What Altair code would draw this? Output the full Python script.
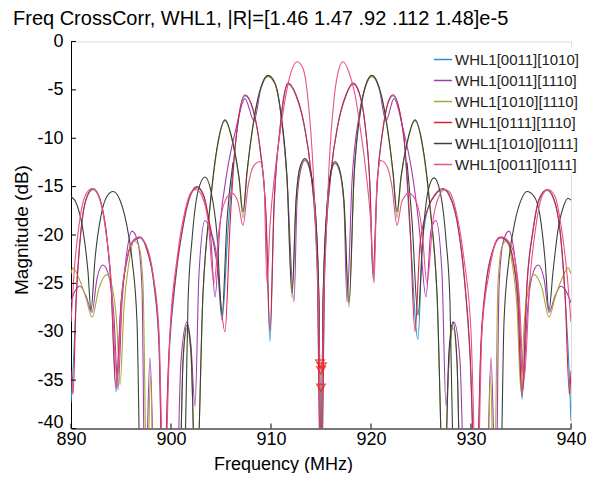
import altair as alt
import pandas as pd

FONT = "Liberation Sans"

title_text = "Freq CrossCorr, WHL1, |R|=[1.46 1.47 .92 .112 1.48]e-5"

series_names = ["WHL1[0011][1010]", "WHL1[0011][1110]", "WHL1[1010][1110]",
                "WHL1[0111][1110]", "WHL1[1010][0111]", "WHL1[0011][0111]"]
series_colors = ["#2b8fd8", "#a23cb0", "#a9a63a", "#d8203a", "#3a403c", "#e8508a"]

x_ticks = [890, 900, 910, 920, 930, 940]
y_ticks = [0, -5, -10, -15, -20, -25, -30, -35, -40]

# (frequency MHz, magnitude dB)
red_pts = [(890.0,-34.0),(890.2,-36.5),(890.5,-27.0),(891.0,-19.5),(891.5,-16.3),(892.2,-15.2),(892.9,-16.3),(893.5,-19.5),(894.0,-25.0),(894.5,-35.8),(895.0,-27.0),(895.6,-22.5),(896.2,-20.6),(896.9,-20.2),(897.6,-21.5),(898.3,-25.0),(898.8,-31.0),(899.2,-48),(899.8,-32.0),(900.5,-24.0),(901.3,-18.5),(902.0,-15.7),(902.6,-15.0),(903.3,-16.0),(903.9,-19.0),(904.6,-23.0),(905.4,-30.0),(905.9,-19.0),(906.5,-10.0),(907.4,-5.5),(908.2,-7.0),(908.9,-11.0),(909.5,-18.0),(909.9,-30.0),(910.3,-17.0),(910.9,-9.0),(911.3,-5.6),(911.7,-4.3),(912.5,-5.5),(913.3,-8.5),(914.0,-13.5),(914.6,-22.0),(915.0,-48),(915.4,-22.0),(916.0,-13.5),(916.7,-8.5),(917.5,-5.5),(918.2,-4.3),(918.8,-5.2),(919.4,-8.5),(919.9,-15.0),(920.2,-24.0),(920.6,-15.0),(921.2,-9.0),(921.7,-6.3),(922.2,-5.5),(923.3,-10.0),(923.9,-19.0),(924.4,-30.0),(924.9,-21.0),(925.6,-17.5),(926.4,-15.8),(927.2,-15.2),(927.9,-16.0),(928.6,-18.5),(929.3,-24.0),(929.9,-32.0),(930.5,-48),(931.0,-31.0),(931.5,-25.0),(932.2,-21.5),(932.9,-20.2),(933.6,-20.6),(934.2,-22.5),(934.7,-27.0),(935.1,-36.7),(935.6,-25.0),(936.2,-19.5),(936.8,-16.3),(937.6,-15.3),(938.3,-16.3),(938.9,-19.5),(939.4,-26.0),(939.85,-36.5),(940.0,-34.0)]

blue_pts = [(890.0,-37.3),(890.25,-33.0),(890.5,-27.0),(891.0,-19.6),(891.5,-16.4),(892.2,-15.3),(892.9,-16.4),(893.5,-19.6),(894.0,-25.2),(894.5,-36.2),(895.0,-27.2),(895.6,-22.6),(896.2,-20.7),(896.9,-20.3),(897.6,-21.6),(898.3,-25.2),(898.8,-31.5),(899.2,-48),(899.8,-32.5),(900.5,-24.2),(901.3,-18.6),(902.0,-15.8),(902.6,-15.1),(903.3,-16.1),(903.9,-19.2),(904.6,-22.5),(905.1,-28.8),(905.7,-19.5),(906.5,-10.1),(907.4,-5.6),(908.2,-7.1),(908.9,-11.1),(909.5,-18.2),(909.9,-31.0),(910.3,-17.2),(910.9,-9.1),(911.3,-5.7),(911.7,-4.4),(912.5,-5.6),(913.3,-8.6),(914.0,-13.6),(914.6,-22.5),(915.0,-48),(915.4,-22.5),(916.0,-13.6),(916.7,-8.6),(917.5,-5.6),(918.2,-4.4),(918.8,-5.3),(919.4,-8.6),(919.9,-15.2),(920.2,-24.5),(920.6,-15.2),(921.2,-9.1),(921.7,-6.4),(922.2,-5.6),(923.3,-10.1),(923.9,-19.5),(924.7,-30.8),(925.1,-21.5),(925.6,-17.6),(926.4,-15.9),(927.2,-15.3),(927.9,-16.1),(928.6,-18.6),(929.3,-24.2),(929.9,-32.5),(930.5,-48),(931.0,-31.5),(931.5,-25.2),(932.2,-21.6),(932.9,-20.3),(933.6,-20.7),(934.2,-22.6),(934.7,-27.2),(935.1,-37.0),(935.6,-25.2),(936.2,-19.6),(936.8,-16.4),(937.6,-15.4),(938.3,-16.4),(938.9,-19.6),(939.4,-26.2),(939.85,-35.0),(940.0,-39.2)]

purple_pts = [(890.0,-27.0),(890.4,-25.8),(890.9,-25.3),(891.5,-26.3),(892.1,-28.0),(892.6,-24.5),(893.2,-23.1),(893.8,-24.3),(894.3,-28.5),(894.7,-36.0),(895.1,-27.0),(895.5,-22.5),(896.1,-19.6),(896.7,-20.8),(897.1,-25.5),(897.4,-48),(897.9,-32.7),(898.4,-48),(900.5,-48),(901.0,-33.0),(901.6,-29.0),(902.0,-31.5),(902.4,-37.7),(902.8,-24.0),(903.4,-18.5),(903.9,-19.5),(904.4,-26.4),(904.9,-19.0),(905.6,-13.5),(906.5,-9.0),(907.4,-5.9),(908.3,-8.2),(909.0,-4.8),(909.7,-3.6),(910.4,-4.4),(911.0,-7.6),(911.6,-14.2),(912.3,-26.9),(912.6,-16.6),(913.0,-13.1),(913.4,-12.3),(913.9,-13.4),(914.4,-17.2),(914.8,-27.5),(915.0,-48),(915.2,-27.5),(915.6,-17.2),(916.0,-13.6),(916.4,-12.6),(916.9,-13.6),(917.3,-17.0),(917.6,-26.9),(918.1,-14.5),(918.8,-7.7),(919.5,-4.5),(920.1,-3.6),(920.8,-4.8),(921.5,-8.2),(922.3,-5.9),(923.2,-9.0),(924.1,-13.5),(924.8,-19.0),(925.5,-26.4),(926.0,-19.5),(926.5,-18.5),(927.1,-24.0),(927.5,-37.7),(927.9,-31.5),(928.3,-29.0),(928.9,-33.0),(929.4,-48),(931.5,-48),(932.0,-32.7),(932.5,-48),(932.8,-25.5),(933.2,-20.8),(933.8,-19.6),(934.4,-22.5),(934.8,-27.0),(935.2,-36.0),(935.6,-28.5),(936.1,-24.3),(936.7,-23.1),(937.3,-24.5),(937.8,-28.0),(938.4,-26.3),(939.0,-25.3),(939.5,-25.8),(940.0,-27.0)]

olive_pts = [(890.0,-24.0),(890.2,-23.4),(890.8,-24.5),(891.5,-26.5),(892.1,-28.5),(892.8,-25.5),(893.6,-24.1),(894.2,-25.8),(894.6,-29.5),(894.9,-35.5),(895.3,-27.5),(895.8,-22.8),(896.3,-20.6),(896.8,-21.2),(897.2,-25.0),(897.6,-48),(897.95,-34.5),(898.3,-48),(900.8,-48),(901.2,-33.3),(901.6,-29.6),(902.0,-32.5),(902.5,-48),(903.2,-26.2),(903.9,-17.2),(904.6,-11.2),(905.4,-8.2),(906.2,-10.6),(906.8,-14.2),(907.2,-18.2),(907.6,-13.6),(908.3,-8.1),(909.0,-4.8),(909.7,-3.6),(910.4,-4.4),(911.0,-7.6),(911.6,-14.2),(912.1,-26.5),(912.5,-16.6),(912.9,-13.1),(913.4,-12.2),(913.9,-13.3),(914.4,-17.2),(914.8,-27.5),(915.0,-48),(915.2,-27.5),(915.6,-17.2),(916.0,-13.5),(916.4,-12.5),(916.9,-13.5),(917.3,-16.6),(917.8,-27.5),(918.3,-14.1),(918.9,-7.6),(919.5,-4.5),(920.1,-3.6),(920.8,-4.8),(921.5,-8.1),(922.2,-13.6),(922.6,-18.2),(923.0,-14.1),(923.6,-10.6),(924.4,-8.2),(925.2,-11.2),(925.9,-17.2),(926.6,-26.2),(927.3,-48),(927.8,-32.5),(928.2,-29.6),(928.6,-33.3),(929.0,-48),(931.6,-48),(931.95,-34.5),(932.3,-48),(932.7,-25.0),(933.1,-21.2),(933.6,-20.6),(934.1,-22.8),(934.6,-27.5),(935.0,-36.2),(935.3,-29.5),(935.7,-25.8),(936.3,-24.1),(937.1,-25.5),(937.8,-28.5),(938.4,-26.5),(939.1,-24.5),(939.7,-23.4),(940.0,-24.0)]

black_main_pts = [(890.0,-16.0),(890.6,-16.9),(891.2,-19.5),(891.7,-23.8),(892.0,-27.8),(892.4,-22.5),(893.0,-18.0),(893.6,-16.0),(894.2,-15.5),(894.9,-16.4),(895.5,-18.6),(896.1,-22.5),(896.6,-29.0),(897.0,-48),(898.9,-41.5),(900.8,-48),(901.2,-33.0),(901.6,-29.3),(902.0,-32.0),(902.5,-48),(903.2,-26.0),(903.9,-17.0),(904.6,-11.0),(905.4,-8.1),(906.2,-10.5),(906.8,-14.0),(907.2,-17.6),(907.6,-13.5),(908.3,-8.0),(909.0,-4.7),(909.7,-3.5),(910.4,-4.3),(911.0,-7.5),(911.6,-14.0),(912.1,-26.0),(912.5,-16.5),(912.9,-13.0),(913.4,-12.1),(913.9,-13.2),(914.4,-17.0),(914.8,-27.0),(915.0,-48),(915.2,-27.0),(915.6,-17.0),(916.0,-13.4),(916.4,-12.4),(916.9,-13.4),(917.3,-16.5),(917.8,-27.0),(918.3,-14.0),(918.9,-7.5),(919.5,-4.4),(920.1,-3.5),(920.8,-4.7),(921.5,-8.0),(922.2,-13.5),(922.6,-17.6),(923.0,-14.0),(923.6,-10.5),(924.4,-8.1),(925.2,-11.0),(925.9,-17.0),(926.6,-26.0),(927.3,-48),(927.8,-32.0),(928.2,-29.0),(928.6,-33.0),(929.0,-48),(931.0,-41.5),(932.9,-48),(933.3,-29.0),(933.8,-22.5),(934.4,-18.6),(935.0,-16.4),(935.6,-15.5),(936.3,-16.0),(936.9,-18.0),(937.4,-22.5),(937.8,-27.8),(938.2,-23.8),(938.7,-19.5),(939.3,-16.9),(939.7,-16.2),(940.0,-16.4)]
black_left_pts = [(901.3,-48),(901.7,-27.0),(902.1,-20.5),(902.7,-15.5),(903.4,-14.0),(904.0,-15.5),(904.6,-20.0),(905.1,-28.3),(905.6,-18.5),(906.2,-12.5)]
black_right_pts = [(923.6,-12.5),(924.1,-18.5),(924.7,-28.3),(925.2,-20.0),(925.7,-15.5),(926.3,-14.1),(926.9,-15.5),(927.5,-20.5),(927.9,-27.0),(928.3,-48)]

pink_pts = [(890.0,-29.0),(890.3,-24.0),(890.8,-19.0),(891.4,-16.0),(892.1,-15.2),(892.8,-16.0),(893.4,-19.0),(894.0,-24.5),(894.6,-35.0),(895.1,-26.0),(895.7,-22.0),(896.2,-20.6),(896.8,-20.2),(897.5,-21.0),(898.2,-24.0),(898.8,-30.0),(899.3,-48),(899.9,-30.0),(900.6,-22.5),(901.4,-17.5),(902.0,-15.6),(902.5,-15.3),(903.1,-16.0),(903.7,-18.5),(904.3,-25.0),(904.8,-19.5),(905.4,-16.5),(906.1,-15.7),(906.7,-16.6),(907.2,-19.0),(907.7,-15.0),(908.3,-12.8),(908.9,-12.4),(909.3,-14.5),(909.6,-25.0),(909.9,-19.0),(910.4,-13.5),(910.9,-9.5),(911.5,-5.5),(912.0,-3.2),(912.6,-2.1),(913.2,-2.8),(913.7,-6.0),(914.2,-13.0),(914.5,-20.5),(914.8,-30.0),(915.0,-48),(915.2,-30.0),(915.5,-20.5),(915.8,-13.0),(916.3,-6.0),(916.8,-2.8),(917.2,-2.1),(917.8,-3.2),(918.4,-5.5),(919.0,-9.5),(919.5,-13.5),(920.0,-19.0),(920.3,-25.0),(920.6,-14.5),(921.0,-12.3),(921.6,-12.9),(922.1,-15.0),(922.6,-19.0),(923.1,-16.5),(923.8,-15.7),(924.5,-16.5),(925.1,-19.5),(925.6,-25.0),(926.2,-18.5),(926.8,-16.0),(927.4,-15.3),(927.9,-15.6),(928.5,-17.5),(929.3,-22.5),(930.0,-30.0),(930.6,-48),(931.1,-30.0),(931.8,-24.0),(932.4,-21.0),(933.1,-20.2),(933.7,-20.6),(934.3,-22.0),(934.8,-26.0),(935.3,-35.0),(935.9,-24.5),(936.5,-19.0),(937.1,-16.0),(937.7,-15.3),(938.4,-16.0),(939.0,-19.0),(939.6,-24.0),(940.0,-29.0)]

marker_f = [914.9, 915.1, 915.0, 915.0]
marker_db = [-33.3, -33.6, -34.0, -35.8]

series_segments = {
    "WHL1[0011][1010]": [blue_pts],
    "WHL1[0011][1110]": [purple_pts],
    "WHL1[1010][1110]": [olive_pts],
    "WHL1[0111][1110]": [red_pts],
    "WHL1[1010][0111]": [black_main_pts, black_left_pts, black_right_pts],
    "WHL1[0011][0111]": [pink_pts],
}

rows = []
for name, segs in series_segments.items():
    for j, seg in enumerate(segs):
        for k, (f, db) in enumerate(seg):
            rows.append({"series": name, "seg": f"{name}-{j}", "f": f, "db": db, "k": k})
df = pd.DataFrame(rows)

W, H = 500, 387
xscale = alt.Scale(domain=[890, 940], nice=False, zero=False)
yscale = alt.Scale(domain=[-40, 0], nice=False, zero=False)

xaxis = alt.Axis(values=x_ticks, title="Frequency (MHz)", format="d",
                 titleFontSize=18, titleFontWeight="normal", titleFont=FONT, titleColor="black",
                 titleX=212, titleY=41, titleBaseline="alphabetic",
                 labelFontSize=18, labelFont=FONT, labelColor="black", labelPadding=2,
                 ticks=False, tickSize=0, grid=False, domainColor="black", domainWidth=1,
                 labelFlush=False)
yaxis = alt.Axis(values=y_ticks, title="Magnitude (dB)", labelExpr="'' + datum.value",
                 labelOffset={"condition": {"test": "datum.value == -40", "value": -6}, "value": 0},
                 titleFontSize=19, titleFontWeight="normal", titleFont=FONT, titleColor="black",
                 titleX=-44, titleY=188, titleBaseline="alphabetic", titleAlign="center",
                 labelFontSize=18, labelFont=FONT, labelColor="black", labelPadding=8,
                 ticks=False, tickSize=0, grid=False, domainColor="black", domainWidth=1,
                 labelFlush=False)

X = alt.X("f:Q", scale=xscale, axis=xaxis)
Y = alt.Y("db:Q", scale=yscale, axis=yaxis)

legend = alt.Legend(title=None, orient="none", legendX=360, legendY=6,
                    symbolType="stroke", symbolSize=330, symbolStrokeWidth=1.5,
                    labelFontSize=15, labelFont=FONT, labelColor="#222222",
                    rowPadding=3, labelOffset=2, fillColor="white", padding=2)
color = alt.Color("series:N", scale=alt.Scale(domain=series_names, range=series_colors),
                  legend=legend)

layers = []
for name in series_names:
    layers.append(
        alt.Chart(df).transform_filter(alt.datum.series == name)
        .mark_line(clip=True, interpolate="monotone", strokeWidth=1.1)
        .encode(x=X, y=Y, color=color, detail="seg:N", order="k:Q")
    )

mk = pd.DataFrame({"f": marker_f, "db": marker_db})
markers = alt.Chart(mk).mark_point(shape="triangle-down", filled=False, color="#e8261c",
                                   size=70, strokeWidth=1.6).encode(x=X, y=Y)

xt = pd.DataFrame({"f": x_ticks})
xtick_marks = alt.Chart(xt).mark_rule(color="black", strokeWidth=1).encode(
    x=X, y=alt.value(H), y2=alt.value(H - 5))
yt = pd.DataFrame({"db": y_ticks})
ytick_marks = alt.Chart(yt).mark_rule(color="black", strokeWidth=1).encode(
    y=Y, x=alt.value(0), x2=alt.value(5))

td = pd.DataFrame({"t": [title_text]})
title_mark = alt.Chart(td).mark_text(align="left", baseline="alphabetic", fontSize=20,
                                     font=FONT, color="black").encode(
    x=alt.value(-58), y=alt.value(-16.5), text="t:N")

chart = alt.layer(*layers, markers, xtick_marks, ytick_marks, title_mark).properties(
    width=W, height=H,
    autosize=alt.AutoSizeParams(type="none"),
    padding={"left": 63, "top": 33.5, "right": 16, "bottom": 44.5},
).configure_view(strokeWidth=0).configure(background="white")

chart.save("out.html", embed_options={"renderer": "svg", "actions": False})
